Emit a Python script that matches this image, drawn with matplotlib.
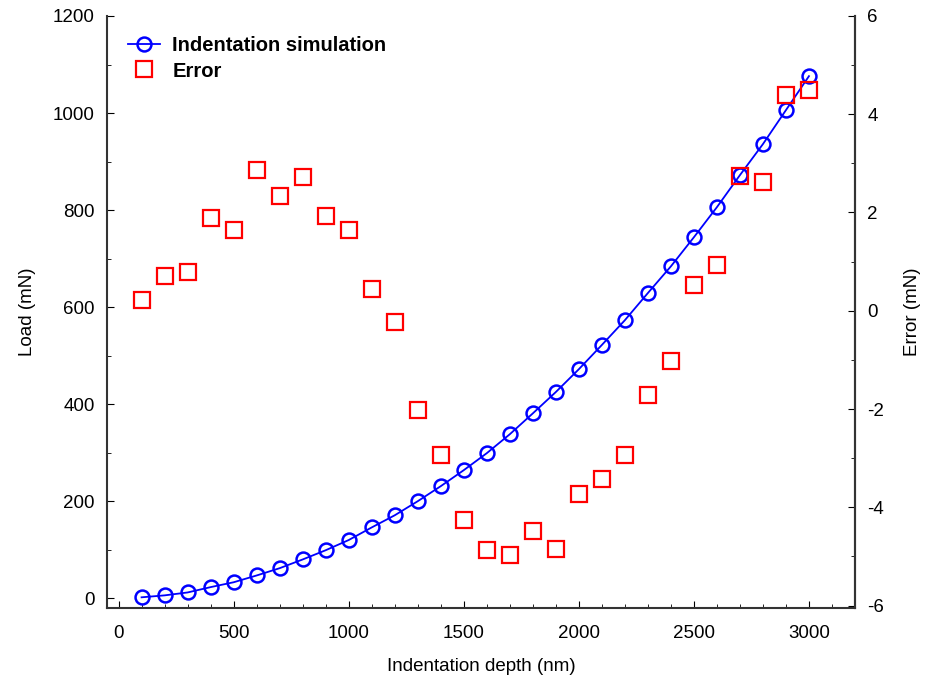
import matplotlib
matplotlib.use("Agg")
import matplotlib.pyplot as plt
from matplotlib.ticker import MultipleLocator

depth = [100, 200, 300, 400, 500, 600, 700, 800, 900, 1000,
         1100, 1200, 1300, 1400, 1500, 1600, 1700, 1800, 1900, 2000,
         2100, 2200, 2300, 2400, 2500, 2600, 2700, 2800, 2900, 3000]
load = [2, 6, 12, 23, 33, 47, 62, 80, 99, 120,
        146, 171, 200, 231, 264, 299, 338, 381, 425, 472,
        522, 573, 629, 684, 744, 806, 872, 936, 1006, 1076]
error = [0.22, 0.71, 0.79, 1.89, 1.65, 2.87, 2.34, 2.72, 1.93, 1.65,
         0.45, -0.22, -2.01, -2.93, -4.25, -4.86, -4.98, -4.49, -4.84, -3.74,
         -3.43, -2.93, -1.71, -1.02, 0.53, 0.93, 2.74, 2.62, 4.39, 4.49]

tick_size = 13.5
plt.rcParams['font.family'] = ['Liberation Sans', 'DejaVu Sans']
plt.rcParams['axes.unicode_minus'] = False

fig = plt.figure(figsize=(9.34, 6.8), dpi=100)
ax = fig.add_axes([0.1146, 0.1059, 0.8008, 0.8706])
ax2 = ax.twinx()

l1, = ax.plot(depth, load, '-o', color='#0000ff', lw=1.3, ms=10,
              mfc='none', mew=1.8, label='Indentation simulation')
l2, = ax2.plot(depth, error, 's', color='#ff0000', ms=11,
               mfc='none', mew=1.6, label='Error')

ax.set_xlim(-50, 3200)
ax.set_ylim(-20, 1200)
ax2.set_ylim(-6.05, 6)

ax.xaxis.set_major_locator(MultipleLocator(500))
ax.xaxis.set_minor_locator(MultipleLocator(100))
ax.yaxis.set_major_locator(MultipleLocator(200))
ax.yaxis.set_minor_locator(MultipleLocator(100))
ax2.yaxis.set_major_locator(MultipleLocator(2))
ax2.yaxis.set_minor_locator(MultipleLocator(1))

for a in (ax, ax2):
    a.spines['top'].set_visible(False)
    for s in a.spines.values():
        s.set_linewidth(1.5)
        s.set_color('#333333')
    a.tick_params(which='both', direction='in', labelsize=tick_size)
    a.tick_params(which='major', length=5, pad=9)
    a.tick_params(which='minor', length=3)
ax.tick_params(axis='x', pad=12)
ax2.spines['left'].set_visible(False)
ax2.spines['bottom'].set_visible(False)

ax.set_xlabel('Indentation depth (nm)', fontsize=tick_size, labelpad=12)
ax.set_ylabel('Load (mN)', fontsize=tick_size, labelpad=12)
ax2.set_ylabel('Error (mN)', fontsize=tick_size, labelpad=14)

leg = ax.legend(handles=[l1, l2], loc='upper left', bbox_to_anchor=(0.004, 0.996),
                frameon=False, prop={'weight': 'bold', 'size': 14.5},
                handlelength=1.6, handletextpad=0.6, labelspacing=0.3)

fig.savefig('out.png', dpi=100)
